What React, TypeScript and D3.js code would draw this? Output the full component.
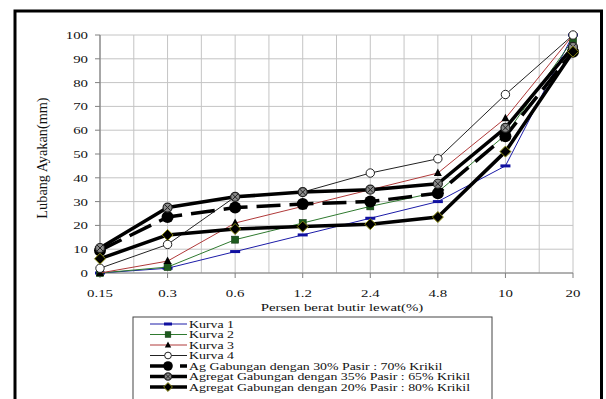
import React from 'react';
import * as d3 from 'd3';

const sieves = ['0.15', '0.3', '0.6', '1.2', '2.4', '4.8', '10', '20'];
const yTicks = [0, 10, 20, 30, 40, 50, 60, 70, 80, 90, 100];

const kurva1 = [0, 2, 9, 16, 23, 30, 45, 100];
const kurva2 = [0, 2.5, 14, 21, 28, 34, 58, 98];
const kurva3 = [0, 5, 21, 28, 35, 42, 65, 100];
const kurva4 = [2, 12, 32, 34, 42, 48, 75, 100];
const gab30 = [9.5, 23.5, 27.5, 29, 30, 33.5, 57.5, 93];
const gab35 = [10.5, 27.5, 32, 34, 35, 37.5, 61, 95];
const gab20 = [6, 16, 18.5, 19.5, 20.5, 23.5, 51, 93];

const seriesNames = [
  'Kurva 1',
  'Kurva 2',
  'Kurva 3',
  'Kurva 4',
  'Ag Gabungan dengan 30% Pasir : 70% Krikil',
  'Agregat Gabungan dengan 35% Pasir : 65% Krikil',
  'Agregat Gabungan dengan 20% Pasir : 80% Krikil',
];

const FONT = '"Liberation Serif", "Times New Roman", "DejaVu Serif", serif';
const SX = 1.35;

const styles = [
  { color: '#1c1ca8', width: 1, dash: null, marker: 'dash' },
  { color: '#2f7a2f', width: 1, dash: null, marker: 'square' },
  { color: '#b03a3a', width: 1, dash: null, marker: 'triangle' },
  { color: '#222', width: 1, dash: null, marker: 'circle' },
  { color: '#000', width: 3.5, dash: '24 9', marker: 'bigcircle' },
  { color: '#000', width: 3.5, dash: null, marker: 'xcircle' },
  { color: '#000', width: 3.5, dash: null, marker: 'diamond' },
];

const Marker = ({ type, x, y, s = 1 }: { type: string; x: number; y: number; s?: number }) => {
  switch (type) {
    case 'dash':
      return <rect x={x - 5 * s} y={y - 1.5} width={10 * s} height={3} fill="#1010a0" />;
    case 'square':
      return <rect x={x - 3.5 * s} y={y - 3.5 * s} width={7 * s} height={7 * s} fill="#1d5a1d" stroke="#0f3a0f" strokeWidth={0.6} />;
    case 'triangle':
      return <path d={`M${x},${y - 4.5 * s}L${x + 4 * s},${y + 3 * s}L${x - 4 * s},${y + 3 * s}Z`} fill="#000" />;
    case 'circle':
      return <circle cx={x} cy={y} r={4.2 * s} fill="#fff" stroke="#222" strokeWidth={1} />;
    case 'bigcircle':
      return <circle cx={x} cy={y} r={6 * s} fill="#000" />;
    case 'xcircle':
      return (
        <g>
          <circle cx={x} cy={y} r={4.5 * s} fill="#8a8a8a" stroke="#222" strokeWidth={1.2} />
          <path
            d={`M${x - 3 * s},${y - 3 * s}L${x + 3 * s},${y + 3 * s}M${x - 3 * s},${y + 3 * s}L${x + 3 * s},${y - 3 * s}`}
            stroke="#222"
            strokeWidth={1}
          />
        </g>
      );
    case 'diamond':
      return (
        <path
          d={`M${x},${y - 5.5 * s}L${x + 5.5 * s},${y}L${x},${y + 5.5 * s}L${x - 5.5 * s},${y}Z`}
          fill="#000"
          stroke="#8a8a10"
          strokeWidth={1}
        />
      );
    default:
      return null;
  }
};

const App = () => {
  const data = [kurva1, kurva2, kurva3, kurva4, gab30, gab35, gab20];

  const x = d3.scalePoint<string>().domain(sieves).range([100, 573]).padding(0);
  const y = d3.scaleLinear().domain([0, 100]).range([273, 35]);

  const step = x.step();
  const vGrid = d3.range(0, sieves.length * 2 - 1).map((i) => 100 + (i * step) / 2);

  const line = d3
    .line<number>()
    .x((_, i) => x(sieves[i]) as number)
    .y((d) => y(d));

  const legendX = 133;
  const legendTop = 317;
  const rowH = 10.5;

  return (
    <svg width={606} height={399} style={{ position: 'absolute', left: 0, top: 0, fontFamily: FONT }}>
      <rect width={606} height={399} fill="#fff" />

      {/* grid */}
      {yTicks.map((t) => (
        <line key={'h' + t} x1={100} x2={573} y1={y(t)} y2={y(t)} stroke="#c4c4c4" strokeWidth={1} />
      ))}
      {vGrid.map((gx, i) => (
        <line key={'v' + i} x1={gx} x2={gx} y1={y(100)} y2={y(0)} stroke="#c4c4c4" strokeWidth={1} />
      ))}

      {/* axes */}
      <line x1={100} x2={100} y1={y(100)} y2={y(0)} stroke="#808080" strokeWidth={1.2} />
      <line x1={100} x2={573} y1={y(0)} y2={y(0)} stroke="#808080" strokeWidth={1.2} />
      {yTicks.map((t) => (
        <g key={'yt' + t}>
          <line x1={95} x2={100} y1={y(t)} y2={y(t)} stroke="#808080" />
          <text transform={`translate(88,${y(t) + 4}) scale(${SX},1)`} textAnchor="end" fontSize={11} fill="#111">
            {t}
          </text>
        </g>
      ))}
      {sieves.map((s) => (
        <g key={'xt' + s}>
          <line x1={x(s)} x2={x(s)} y1={y(0)} y2={y(0) + 5} stroke="#808080" />
          <text transform={`translate(${x(s)},${297}) scale(${SX},1)`} textAnchor="middle" fontSize={11} fill="#111">
            {s}
          </text>
        </g>
      ))}

      <text transform={`translate(342,311) scale(${SX},1)`} textAnchor="middle" fontSize={11} fill="#111">
        Persen berat butir lewat(%)
      </text>
      <text transform={`translate(47,158) rotate(-90) scale(1.3,1.3)`} textAnchor="middle" fontSize={11} fill="#111">
        Lubang Ayakan(mm)
      </text>

      {/* series */}
      {data.map((vals, si) => (
        <g key={'s' + si}>
          <path
            d={line(vals) as string}
            fill="none"
            stroke={styles[si].color}
            strokeWidth={styles[si].width}
            strokeDasharray={styles[si].dash ?? undefined}
            strokeLinejoin="round"
          />
          {vals.map((v, i) => (
            <Marker key={i} type={styles[si].marker} x={x(sieves[i]) as number} y={y(v)} />
          ))}
        </g>
      ))}

      {/* legend */}
      <rect x={legendX} y={legendTop} width={359} height={120} fill="#fff" stroke="#444" strokeWidth={1} />
      {seriesNames.map((name, i) => {
        const ly = legendTop + 7 + i * rowH;
        const st = styles[i];
        return (
          <g key={'lg' + i}>
            <line
              x1={150}
              x2={187}
              y1={ly}
              y2={ly}
              stroke={st.color}
              strokeWidth={st.width}
              strokeDasharray={st.dash ? '22 8' : undefined}
            />
            <Marker type={st.marker} x={168} y={ly} s={0.8} />
            <text transform={`translate(189,${ly + 3.5}) scale(1.32,1)`} fontSize={10.5} fill="#111">
              {name}
            </text>
          </g>
        );
      })}

      {/* outer frame */}
      <rect x={15} y={11} width={586.5} height={450} fill="none" stroke="#000" strokeWidth={3} />
    </svg>
  );
};

export default App;
